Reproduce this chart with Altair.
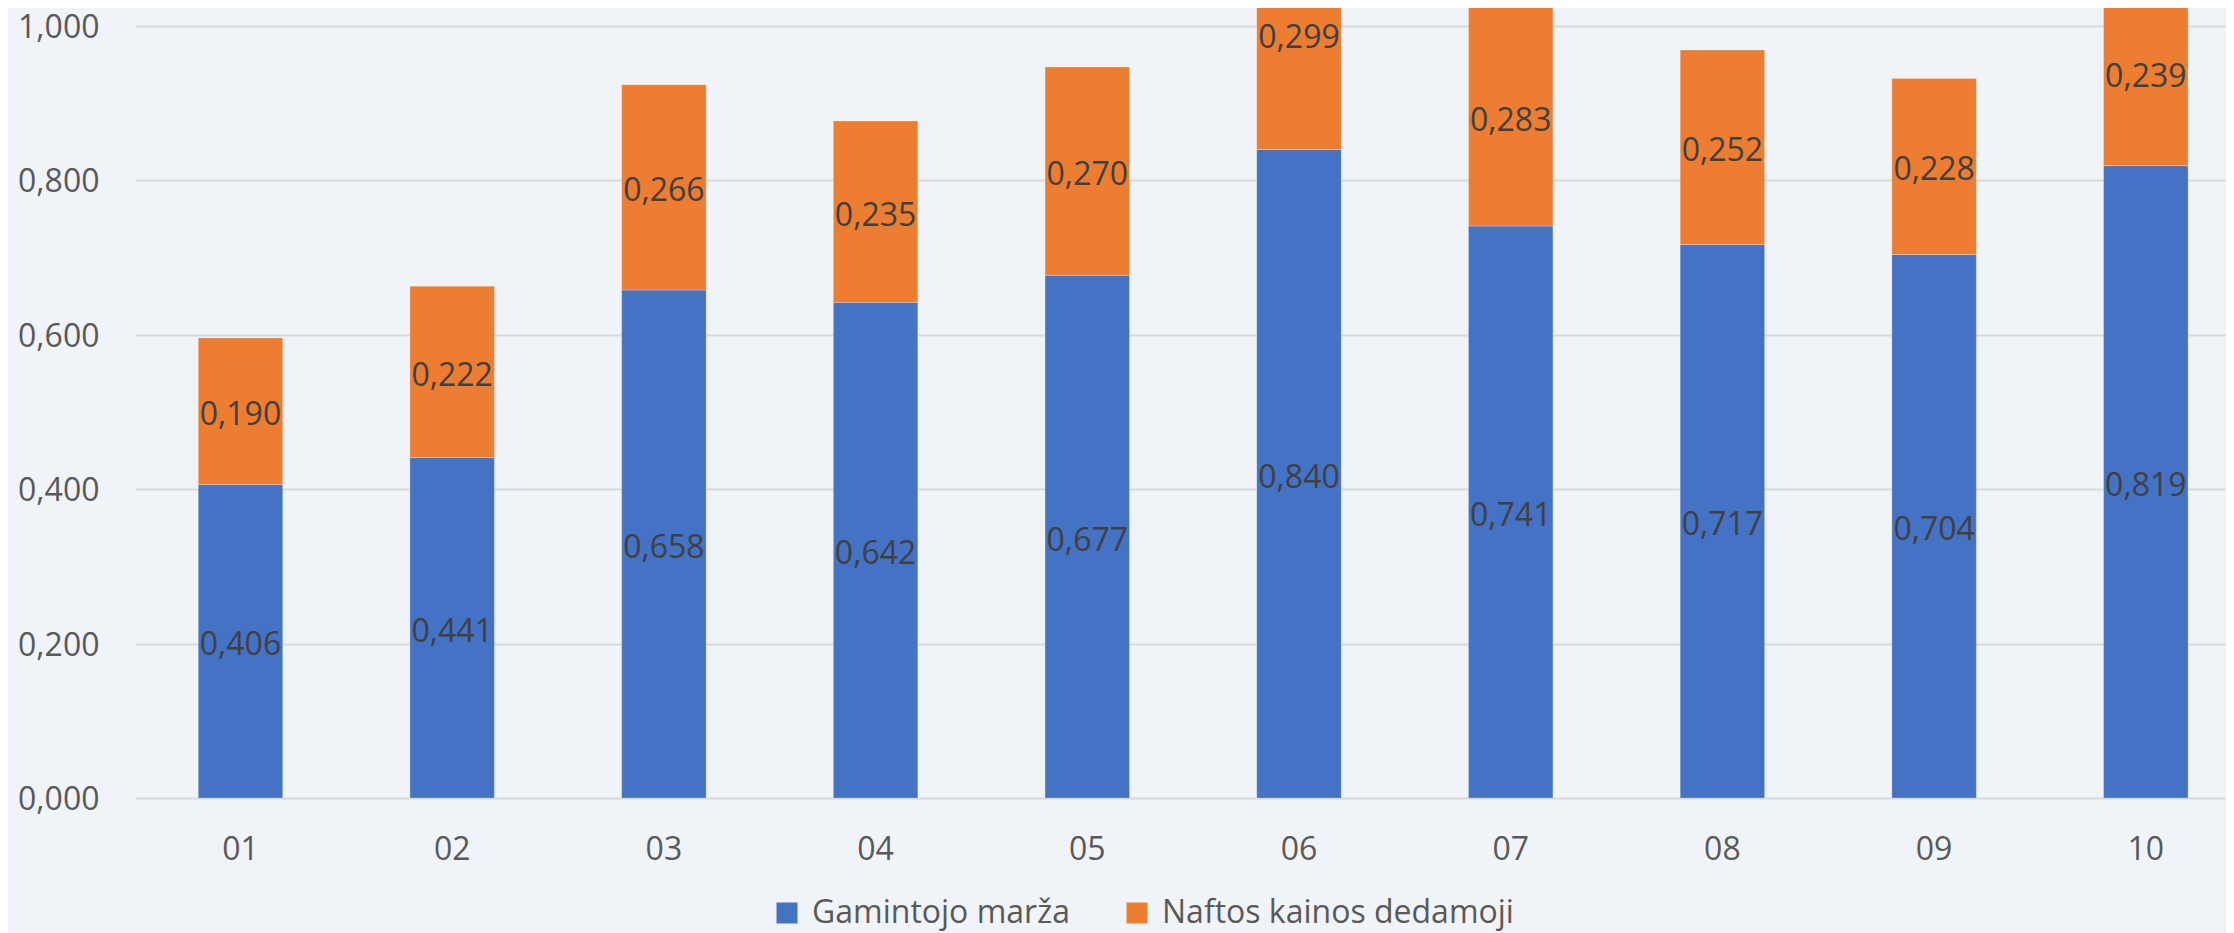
import altair as alt
import pandas as pd

months = ["01", "02", "03", "04", "05", "06", "07", "08", "09", "10"]
gamintojo = [0.406, 0.441, 0.658, 0.642, 0.677, 0.840, 0.741, 0.717, 0.704, 0.819]
nafta = [0.190, 0.222, 0.266, 0.235, 0.270, 0.299, 0.283, 0.252, 0.228, 0.239]
series = ["Gamintojo marža", "Naftos kainos dedamoji"]
colors = ["#4472C4", "#ED7D31"]
y_ticks = [0, 0.2, 0.4, 0.6, 0.8, 1.0]

rows = []
for i, m in enumerate(months):
    rows.append({"month": m, "series": series[0], "order": 0, "value": gamintojo[i]})
    rows.append({"month": m, "series": series[1], "order": 1, "value": nafta[i]})
df = pd.DataFrame(rows)

FONT = "Open Sans"
fmt = "replace(format(datum.value, '.3f'), '.', ',')"

base = alt.Chart(df).transform_stack(
    stack="value",
    groupby=["month"],
    as_=["y0", "y1"],
    sort=[alt.SortField(field="order", order="ascending")],
).transform_calculate(
    mid="(datum.y0 + datum.y1) / 2",
    label=fmt,
)

xenc = alt.X(
    "month:N",
    sort=months,
    title=None,
    scale=alt.Scale(paddingInner=0.601, paddingOuter=0.239, align=0.625),
    axis=alt.Axis(labelAngle=0, labelPadding=36, grid=False),
)
yscale = alt.Scale(domain=[0, 1.0233], nice=False, zero=True)

bars = base.mark_bar(clip=True, stroke="#FFFFFF", strokeOpacity=0.25, strokeWidth=1).encode(
    x=xenc,
    y=alt.Y(
        "y0:Q",
        title=None,
        scale=yscale,
        axis=alt.Axis(values=y_ticks, labelExpr=fmt, labelPadding=36, labelOffset=1.5,
                      grid=True, gridColor="#D9D9D9", gridWidth=2),
    ),
    y2="y1:Q",
    color=alt.Color(
        "series:N",
        scale=alt.Scale(domain=series, range=colors),
        legend=alt.Legend(
            orient="none", legendX=636, legendY=889, direction="horizontal", title=None,
            symbolType="square", symbolSize=441, symbolStrokeWidth=0, symbolOpacity=1,
            labelFont=FONT, labelFontSize=32, labelColor="#595959", labelOffset=9,
            labelLimit=1000, columnPadding=51, padding=0,
        ),
    ),
)

labels = base.mark_text(font=FONT, fontSize=32, color="#404040", baseline="middle", dy=4).encode(
    x=alt.X("month:N", sort=months, title=None),
    y=alt.Y("mid:Q", title=None, scale=yscale),
    text="label:N",
)

chart = alt.layer(bars, labels).properties(
    width=2091,
    height=790,
    autosize=alt.AutoSizeParams(type="none"),
    padding={"left": 127, "top": 0, "right": 0, "bottom": 135},
    background="#F0F3F7",
).configure_view(stroke=None).configure_axis(
    labelFont=FONT, labelFontSize=32, labelColor="#595959",
    domain=False, ticks=False, tickSize=0,
)

chart.save("out.html", embed_options={"renderer": "svg", "actions": False})
